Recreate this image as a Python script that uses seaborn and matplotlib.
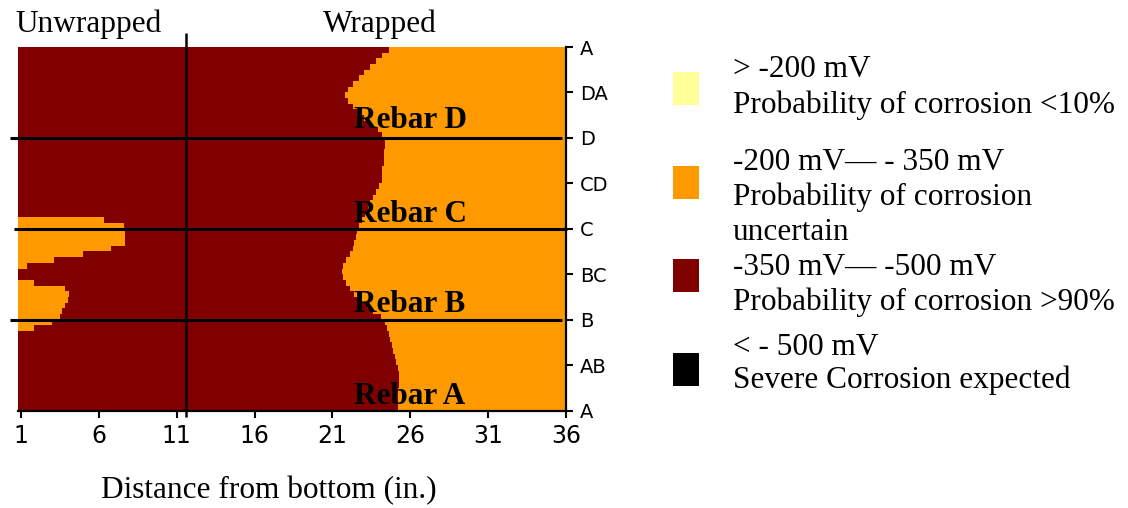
import numpy as np
import matplotlib
matplotlib.use("Agg")
import matplotlib.pyplot as plt
from matplotlib.colors import ListedColormap
from matplotlib.patches import Rectangle
import seaborn as sns

# ---- survey data -------------------------------------------------------
# Half-potential classes (index into class_colors / class_labels)
class_colors = ["#FFFF99", "#FF9900", "#800000", "#000000"]
class_labels = [
    ["> -200 mV", "Probability of corrosion <10%"],
    ["-200 mV\u2014 - 350 mV", "Probability of corrosion", "uncertain"],
    ["-350 mV\u2014 -500 mV", "Probability of corrosion >90%"],
    ["< - 500 mV", "Severe Corrosion expected"],
]

# Around-the-column positions, bottom to top
y_tick_labels = ["A", "AB", "B", "BC", "C", "CD", "D", "DA", "A"]
x_ticks = [1, 6, 11, 16, 21, 26, 31, 36]

# Rows of the map, top (A) to bottom (A), 8 rows per station interval.
# wrap_edge: distance (in.) above which the potential is in the
#            -200 .. -350 mV class; below it the -350 .. -500 mV class.
wrap_edge = [
    24.6, 24.2, 23.8, 23.4, 23.0, 22.7, 22.3, 22.0, 21.8, 22.0, 22.3, 22.6, 23.0, 23.4, 23.9, 24.2,
    24.4, 24.4, 24.3, 24.3, 24.3, 24.2, 24.2, 24.2, 24.0, 23.8, 23.6, 23.4, 23.3, 23.1, 22.9, 22.7,
    22.6, 22.5, 22.4, 22.3, 22.1, 21.9, 21.7, 21.6, 21.7, 21.9, 22.1, 22.4, 22.8, 23.2, 23.6, 24.1,
    24.4, 24.5, 24.6, 24.7, 24.8, 24.9, 25.0, 25.1, 25.2, 25.3, 25.3, 25.3, 25.2, 25.2, 25.2, 25.2,
]
# low_edge: distance (in.) below which the bottom of the column also
#           reads -200 .. -350 mV (0 = none)
low_edge = [
    0, 0, 0, 0, 0, 0, 0, 0, 0, 0, 0, 0, 0, 0, 0, 0,
    0, 0, 0, 0, 0, 0, 0, 0, 0, 0, 0, 0, 0, 0, 6.3, 7.6,
    7.7, 7.7, 7.7, 6.8, 5.0, 3.1, 1.4, 0, 0, 1.8, 3.8, 4.1, 4.0, 3.8, 3.6, 3.5,
    3.0, 1.8, 0, 0, 0, 0, 0, 0, 0, 0, 0, 0, 0, 0, 0, 0,
]

rebar_lines = [2, 4, 6]            # stations B, C, D
rebar_names = ["Rebar A", "Rebar B", "Rebar C", "Rebar D"]
wrap_start = 11.57                 # start of the wrapped zone (in.)

# ---- grid ---------------------------------------------------------------
X0, X1, DX = 0.8, 36.0, 0.1
ROWS_PER_STATION = 8
n_cols = int(round((X1 - X0) / DX))
x_centers = X0 + DX * (np.arange(n_cols) + 0.5)
we = np.asarray(wrap_edge)[:, None]
le = np.asarray(low_edge)[:, None]
grid = np.where((x_centers[None, :] >= we) | (x_centers[None, :] <= le), 1, 2)


def col(x):
    return (x - X0) / DX


def row(level):
    return (8 - level) * ROWS_PER_STATION


# ---- figure -------------------------------------------------------------
W, H = 1128, 508
sns.set_style("white")
plt.rcParams["font.family"] = ["Liberation Serif", "DejaVu Sans"]
plt.rcParams["text.color"] = "black"
plt.rcParams["xtick.color"] = "black"
plt.rcParams["ytick.color"] = "black"
fig = plt.figure(figsize=(W / 100, H / 100), dpi=100)
fig.patch.set_facecolor("white")


def fx(px):
    return px / W


def fy(py):
    return 1 - py / H


ax = fig.add_axes([fx(18), fy(410.5), (566 - 18) / W, (410.5 - 47) / H])
cmap = ListedColormap(class_colors)
sns.heatmap(grid, cmap=cmap, vmin=-0.5, vmax=3.5, cbar=False, ax=ax,
            xticklabels=False, yticklabels=False, linewidths=0,
            rasterized=True)

# axes frame: bottom and right only
for side in ["top", "left"]:
    ax.spines[side].set_visible(False)
for side in ["bottom", "right"]:
    ax.spines[side].set_visible(True)
    ax.spines[side].set_color("black")
    ax.spines[side].set_linewidth(1.6)

ax.set_xticks([col(v) for v in x_ticks])
ax.set_xticklabels([str(v) for v in x_ticks], family="DejaVu Sans",
                   fontsize=17, color="black")
ax.yaxis.tick_right()
ax.set_yticks([row(i) for i in range(len(y_tick_labels))])
ax.set_yticklabels(y_tick_labels, family="DejaVu Sans", fontsize=14,
                   color="black")
ax.tick_params(axis="x", direction="out", length=5, width=1.5, pad=5,
               bottom=True, colors="black")
ax.tick_params(axis="y", direction="out", length=5, width=1.5, pad=5,
               right=True, left=False, colors="black")

# rebar lines and wrap boundary
line_spans = {2: (0.29, 35.74), 4: (0.54, 36.06), 6: (0.29, 35.74)}
for lv in rebar_lines:
    a, b = line_spans[lv]
    ax.plot([col(a), col(b)], [row(lv), row(lv)], color="black", lw=2.2,
            clip_on=False, solid_capstyle="butt")
ax.plot([col(wrap_start), col(wrap_start)], [row(8.31), row(-0.15)],
        color="black", lw=1.8, clip_on=False, solid_capstyle="butt")

rebar_base = [0.15, 2.17, 4.15, 6.21]
for name, lv in zip(rebar_names, rebar_base):
    ax.text(col(22.38), row(lv), name, fontsize=22.5, fontweight="bold",
            va="baseline", ha="left", color="black")

# zone headings and axis title
fig.text(fx(15), fy(31.7), "Unwrapped", fontsize=22.5, va="baseline", ha="left")
fig.text(fx(323), fy(31.7), "Wrapped", fontsize=22.5, va="baseline", ha="left")
fig.text(fx(101), fy(498), "Distance from bottom (in.)", fontsize=22.5,
         va="baseline", ha="left")

# legend
sq_tops = [72.3, 166, 259, 353]
text_baselines = [[76.7, 113.3], [170, 205, 240], [275, 310], [355, 388.3]]
for color, top, lines, bases in zip(class_colors, sq_tops, class_labels, text_baselines):
    fig.add_artist(Rectangle((fx(672.7), fy(top + 32.7)), 26.6 / W, 32.7 / H,
                             transform=fig.transFigure, facecolor=color,
                             edgecolor="none"))
    for txt, b in zip(lines, bases):
        fig.text(fx(733), fy(b), txt, fontsize=22.5, va="baseline", ha="left")

fig.savefig("out.png", dpi=100, facecolor="white")
